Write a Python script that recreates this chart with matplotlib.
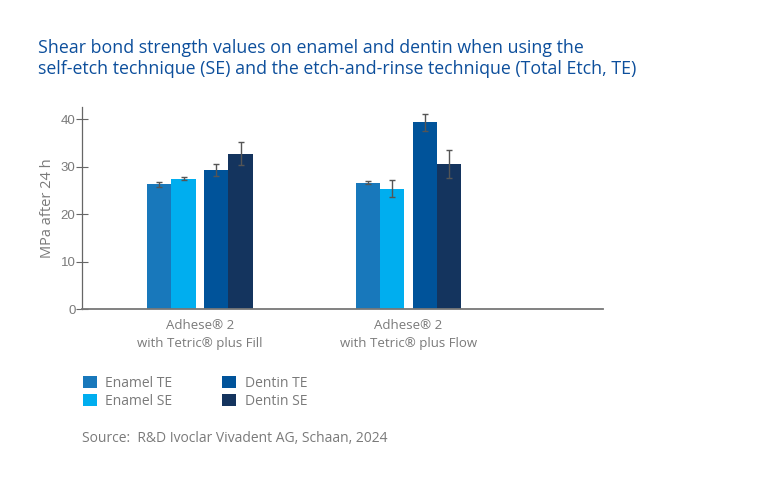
import numpy as np
import matplotlib
matplotlib.use("Agg")
import matplotlib.pyplot as plt
from matplotlib.patches import Patch

# ---- data ----
groups = ["Adhese\u00ae 2\nwith Tetric\u00ae plus Fill",
          "Adhese\u00ae 2\nwith Tetric\u00ae plus Flow"]
series = ["Enamel TE", "Enamel SE", "Dentin TE", "Dentin SE"]
enamel_te = [26.3, 26.7]
enamel_se = [27.5, 25.4]
dentin_te = [29.3, 39.4]
dentin_se = [32.8, 30.6]
enamel_te_err = [0.5, 0.3]
enamel_se_err = [0.3, 1.8]
dentin_te_err = [1.2, 1.8]
dentin_se_err = [2.4, 3.0]
yticks = [0, 10, 20, 30, 40]

colors = ["#1878bb", "#00aeef", "#00539a", "#14345e"]
GREY = "#7a7a7a"
TITLE_BLUE = "#0d4f9c"
FONT = "Open Sans"

plt.rcParams["font.family"] = [FONT, "DejaVu Sans"]

fig = plt.figure(figsize=(7.68, 4.88), dpi=100)
ax = fig.add_axes([0.1072, 0.3662, 0.678, 0.4145])

x = np.arange(len(groups))
width = 0.116
offsets = [-0.193, -0.077, 0.080, 0.196]
values = [enamel_te, enamel_se, dentin_te, dentin_se]
errs = [enamel_te_err, enamel_se_err, dentin_te_err, dentin_se_err]

for vals, err, off, col in zip(values, errs, offsets, colors):
    ax.bar(x + off, vals, width, color=col, zorder=2)
    ax.errorbar(x + off, vals, yerr=err, fmt="none", ecolor="#555555",
                elinewidth=1.0, capsize=2, capthick=1.0, zorder=3)

ax.set_xlim(-0.562, 1.932)
ax.set_ylim(0, 42.6)
ax.set_yticks(yticks)
ax.set_xticks(x)
ax.set_xticklabels(groups, fontsize=9.5, color=GREY, linespacing=1.45)
ax.tick_params(axis="x", length=0, pad=7)
ax.tick_params(axis="y", direction="inout", length=8, width=0.8,
               color="#666666", labelcolor=GREY, labelsize=9.5, pad=1)
for lab in ax.get_yticklabels():
    lab.set_family(["Liberation Sans", "DejaVu Sans"])

for side in ["top", "right"]:
    ax.spines[side].set_visible(False)
ax.spines["left"].set_color("#666666")
ax.spines["bottom"].set_color("#777777")
ax.spines["left"].set_linewidth(0.9)
ax.spines["bottom"].set_linewidth(1.3)

ax.set_ylabel("MPa after 24 h", fontsize=10.5, color=GREY, labelpad=4)

fig.text(0.049, 0.880, "Shear bond strength values on enamel and dentin when using the\n"
         "self-etch technique (SE) and the etch-and-rinse technique (Total Etch, TE)",
         fontsize=12.8, color=TITLE_BLUE, ha="left", va="center", linespacing=1.25,
         fontweight="medium")

handles = [Patch(facecolor=c, edgecolor="none") for c in colors]
fig.legend(handles, series, loc="upper left", bbox_to_anchor=(0.108, 0.230),
           ncol=2, frameon=False, fontsize=10, labelcolor=GREY,
           handlelength=1.0, handleheight=1.0, handletextpad=0.6,
           labelspacing=0.2, columnspacing=3.6, borderpad=0, borderaxespad=0)

fig.text(0.107, 0.102, "Source:  R&D Ivoclar Vivadent AG, Schaan, 2024",
         fontsize=10, color=GREY, ha="left", va="center")

fig.savefig("out.png", dpi=100)
